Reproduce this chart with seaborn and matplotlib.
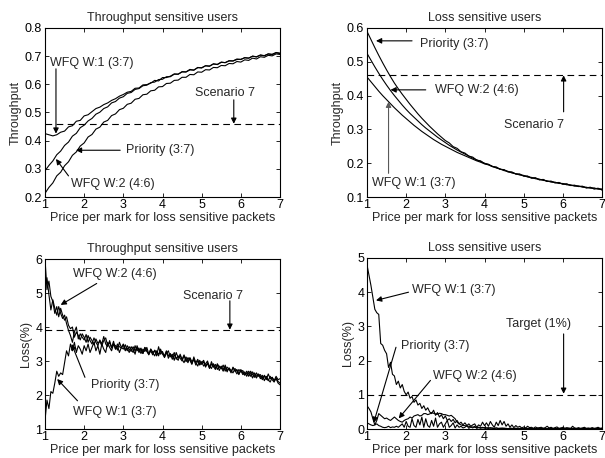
import numpy as np
import matplotlib
matplotlib.use("Agg")
import matplotlib.pyplot as plt
import seaborn as sns

sns.set_style("ticks")
plt.rcParams['font.family'] = ['Liberation Sans', 'DejaVu Sans']
plt.rcParams['font.size'] = 9

# x grids: 0.1 steps for the throughput panels, 0.05 for the noisy loss panels
price = np.round(np.arange(1.0, 7.001, 0.1), 2)
price_fine = np.round(np.arange(1.0, 7.001, 0.05), 2)

# Throughput sensitive users - throughput
tl_w1 = [0.425, 0.421, 0.417, 0.421, 0.430, 0.434, 0.449, 0.453, 0.469, 0.472,
         0.488, 0.492, 0.503, 0.514, 0.519, 0.528, 0.534, 0.543, 0.549, 0.558,
         0.564, 0.572, 0.575, 0.586, 0.587, 0.598, 0.599, 0.604, 0.614, 0.612,
         0.624, 0.624, 0.629, 0.637, 0.636, 0.645, 0.644, 0.653, 0.650, 0.660,
         0.658, 0.666, 0.664, 0.673, 0.670, 0.678, 0.677, 0.683, 0.683, 0.688,
         0.689, 0.694, 0.693, 0.700, 0.697, 0.704, 0.701, 0.708, 0.705, 0.712, 0.709]
tl_w2 = [0.293, 0.312, 0.328, 0.350, 0.363, 0.383, 0.395, 0.416, 0.426, 0.446,
         0.455, 0.470, 0.479, 0.494, 0.501, 0.514, 0.520, 0.534, 0.539, 0.551,
         0.556, 0.568, 0.571, 0.582, 0.585, 0.595, 0.597, 0.606, 0.608, 0.617,
         0.618, 0.627, 0.627, 0.636, 0.636, 0.644, 0.644, 0.651, 0.651, 0.659,
         0.659, 0.666, 0.665, 0.672, 0.671, 0.679, 0.677, 0.684, 0.683, 0.690,
         0.688, 0.695, 0.693, 0.700, 0.698, 0.704, 0.702, 0.708, 0.707, 0.713, 0.711]
tl_pr = [0.213, 0.234, 0.250, 0.275, 0.288, 0.311, 0.325, 0.348, 0.360, 0.381,
         0.392, 0.413, 0.422, 0.441, 0.448, 0.466, 0.472, 0.489, 0.495, 0.510,
         0.515, 0.529, 0.533, 0.547, 0.550, 0.563, 0.565, 0.577, 0.579, 0.591,
         0.592, 0.603, 0.604, 0.614, 0.615, 0.625, 0.625, 0.635, 0.634, 0.644,
         0.643, 0.652, 0.651, 0.660, 0.659, 0.667, 0.666, 0.674, 0.673, 0.681,
         0.679, 0.687, 0.685, 0.693, 0.690, 0.698, 0.696, 0.703, 0.701, 0.708, 0.706]

# Loss sensitive users - throughput
tr_pr = [0.590, 0.566, 0.542, 0.519, 0.497, 0.476, 0.456, 0.437, 0.420, 0.404,
         0.389, 0.374, 0.360, 0.346, 0.333, 0.321, 0.309, 0.298, 0.287, 0.277,
         0.267, 0.260, 0.249, 0.244, 0.234, 0.230, 0.221, 0.218, 0.209, 0.207,
         0.199, 0.197, 0.190, 0.189, 0.182, 0.181, 0.174, 0.174, 0.168, 0.168,
         0.162, 0.162, 0.156, 0.157, 0.151, 0.152, 0.146, 0.147, 0.142, 0.143,
         0.138, 0.139, 0.134, 0.135, 0.131, 0.132, 0.127, 0.129, 0.124, 0.126, 0.121]
tr_w2 = [0.525, 0.505, 0.485, 0.466, 0.448, 0.431, 0.415, 0.400, 0.386, 0.372,
         0.359, 0.347, 0.336, 0.325, 0.314, 0.304, 0.295, 0.286, 0.277, 0.269,
         0.261, 0.253, 0.246, 0.239, 0.233, 0.227, 0.221, 0.215, 0.210, 0.205,
         0.200, 0.196, 0.191, 0.186, 0.183, 0.178, 0.176, 0.171, 0.169, 0.165,
         0.164, 0.159, 0.158, 0.154, 0.153, 0.149, 0.148, 0.144, 0.144, 0.140,
         0.140, 0.136, 0.136, 0.132, 0.133, 0.129, 0.129, 0.126, 0.127, 0.123, 0.124]
tr_w1 = [0.455, 0.441, 0.427, 0.413, 0.400, 0.388, 0.376, 0.364, 0.353, 0.342,
         0.332, 0.322, 0.312, 0.303, 0.294, 0.286, 0.278, 0.270, 0.263, 0.256,
         0.250, 0.244, 0.238, 0.232, 0.227, 0.222, 0.217, 0.212, 0.207, 0.203,
         0.198, 0.195, 0.190, 0.187, 0.182, 0.180, 0.175, 0.173, 0.168, 0.167,
         0.162, 0.161, 0.156, 0.156, 0.151, 0.151, 0.146, 0.146, 0.142, 0.142,
         0.138, 0.138, 0.134, 0.134, 0.131, 0.131, 0.127, 0.128, 0.124, 0.125, 0.121]

# Throughput sensitive users - loss (%)
bl_w2 = [6.0, 5.1, 5.35, 4.9, 4.75, 4.4, 4.6, 4.3, 4.55, 4.35,
         4.2, 4.3, 4.05, 3.95, 4.0, 3.7, 3.85, 3.75, 3.62, 3.8,
         3.7, 3.55, 3.75, 3.6, 3.5, 3.68, 3.55, 3.45, 3.62, 3.5,
         3.72, 3.5, 3.42, 3.6, 3.38, 3.5, 3.45, 3.32, 3.55, 3.4,
         3.35, 3.48, 3.3, 3.42, 3.35, 3.25, 3.45, 3.3, 3.38, 3.22,
         3.35, 3.28, 3.4, 3.2, 3.3, 3.18, 3.32, 3.25, 3.15, 3.35,
         3.2, 3.12, 3.28, 3.15, 3.22, 3.05, 3.18, 3.1, 3.02, 3.2,
         3.05, 2.95, 3.12, 3.0, 3.08, 2.92, 3.05, 2.95, 2.85, 3.02,
         2.9, 2.98, 2.82, 2.95, 2.85, 2.78, 2.92, 2.8, 2.88, 2.72,
         2.85, 2.75, 2.82, 2.68, 2.8, 2.72, 2.65, 2.78, 2.7, 2.6,
         2.75, 2.65, 2.58, 2.7, 2.62, 2.55, 2.68, 2.58, 2.5, 2.62,
         2.55, 2.45, 2.58, 2.5, 2.42, 2.55, 2.45, 2.38, 2.5, 2.4,
         2.35]
bl_pr = [5.2, 5.45, 4.95, 4.5, 4.8, 4.55, 4.35, 4.6, 4.4, 4.25,
         4.35, 4.1, 3.9, 3.75, 3.55, 3.85, 4.0, 3.65, 3.8, 3.7,
         3.62, 3.78, 3.55, 3.7, 3.6, 3.48, 3.65, 3.52, 3.58, 3.45,
         3.6, 3.68, 3.45, 3.55, 3.4, 3.58, 3.35, 3.5, 3.42, 3.38,
         3.48, 3.32, 3.45, 3.35, 3.28, 3.42, 3.3, 3.4, 3.25, 3.35,
         3.22, 3.4, 3.28, 3.2, 3.35, 3.25, 3.15, 3.3, 3.2, 3.28,
         3.25, 3.15, 3.3, 3.08, 3.2, 3.12, 3.25, 3.05, 3.15, 3.08,
         3.0, 3.15, 3.05, 2.95, 3.1, 2.98, 3.05, 2.88, 3.0, 2.92,
         2.98, 2.85, 2.92, 3.0, 2.8, 2.9, 2.85, 2.75, 2.92, 2.82,
         2.78, 2.88, 2.7, 2.82, 2.75, 2.68, 2.8, 2.72, 2.62, 2.75,
         2.68, 2.72, 2.6, 2.65, 2.55, 2.7, 2.6, 2.52, 2.65, 2.55,
         2.6, 2.5, 2.55, 2.45, 2.62, 2.48, 2.52, 2.42, 2.55, 2.45,
         2.48]
bl_w1 = [1.25, 1.85, 1.6, 2.1, 2.05, 2.35, 2.7, 2.55, 2.65, 2.6,
         2.95, 3.3, 3.15, 3.5, 3.3, 3.55, 3.25, 3.45, 3.35, 3.2,
         3.45, 3.3, 3.5, 3.25, 3.4, 3.55, 3.3, 3.45, 3.2, 3.5,
         3.35, 3.25, 3.55, 3.4, 3.3, 3.5, 3.35, 3.45, 3.25, 3.4,
         3.5, 3.3, 3.38, 3.25, 3.42, 3.35, 3.2, 3.45, 3.3, 3.38,
         3.22, 3.4, 3.3, 3.18, 3.35, 3.25, 3.3, 3.15, 3.42, 3.2,
         3.28, 3.1, 3.22, 3.3, 3.12, 3.2, 3.02, 3.25, 3.1, 3.15,
         3.05, 3.18, 2.98, 3.1, 3.02, 2.9, 3.12, 2.95, 3.05, 2.88,
         2.95, 3.02, 2.85, 2.92, 2.78, 2.98, 2.82, 2.9, 2.75, 2.85,
         2.8, 2.7, 2.88, 2.72, 2.78, 2.65, 2.82, 2.7, 2.75, 2.62,
         2.72, 2.6, 2.68, 2.55, 2.7, 2.62, 2.5, 2.65, 2.55, 2.6,
         2.48, 2.58, 2.42, 2.55, 2.45, 2.38, 2.52, 2.42, 2.48, 2.35,
         2.3]

# Loss sensitive users - loss (%)
br_w1 = [4.8, 4.5, 4.2, 3.85, 3.5, 3.4, 3.35, 2.5, 2.45, 2.3,
         2.2, 1.8, 1.95, 1.6, 1.55, 1.3, 1.4, 1.2, 1.3, 1.1,
         1.0, 1.08, 0.9, 0.95, 0.78, 0.85, 0.7, 0.75, 0.6, 0.68,
         0.55, 0.62, 0.5, 0.45, 0.55, 0.4, 0.48, 0.35, 0.42, 0.3,
         0.38, 0.25, 0.3, 0.22, 0.28, 0.18, 0.25, 0.15, 0.2, 0.12,
         0.18, 0.1, 0.15, 0.08, 0.12, 0.15, 0.05, 0.12, 0.08, 0.2,
         0.1, 0.18, 0.08, 0.22, 0.12, 0.05, 0.2, 0.1, 0.25, 0.12,
         0.22, 0.08, 0.15, 0.05, 0.12, 0.04, 0.1, 0.05, 0.08, 0.03,
         0.06, 0.03, 0.08, 0.04, 0.05, 0.02, 0.06, 0.03, 0.04, 0.05,
         0.02, 0.04, 0.08, 0.03, 0.05, 0.02, 0.04, 0.06, 0.02, 0.03,
         0.05, 0.02, 0.04, 0.03, 0.02, 0.08, 0.03, 0.02, 0.04, 0.02,
         0.03, 0.05, 0.02, 0.03, 0.02, 0.04, 0.02, 0.03, 0.05, 0.02,
         0.03]
br_pr = [0.68, 0.6, 0.5, 0.3, 0.12, 0.25, 0.45, 0.4, 0.35, 0.3,
         0.32, 0.28, 0.25, 0.3, 0.35, 0.3, 0.25, 0.22, 0.2, 0.25,
         0.28, 0.3, 0.35, 0.32, 0.38, 0.4, 0.42, 0.38, 0.4, 0.45,
         0.45, 0.42, 0.44, 0.48, 0.46, 0.44, 0.43, 0.46, 0.45, 0.42,
         0.42, 0.4, 0.38, 0.4, 0.35, 0.3, 0.2, 0.15, 0.12, 0.1,
         0.1, 0.08, 0.08, 0.06, 0.06, 0.05, 0.04, 0.05, 0.04, 0.03,
         0.05, 0.03, 0.04, 0.02, 0.03, 0.02, 0.03, 0.02, 0.02, 0.03,
         0.02, 0.02, 0.01, 0.02, 0.02, 0.01, 0.02, 0.01, 0.02, 0.01,
         0.01, 0.02, 0.01, 0.01, 0.02, 0.01, 0.01, 0.02, 0.01, 0.01,
         0.02, 0.01, 0.01, 0.01, 0.02, 0.01, 0.01, 0.02, 0.01, 0.01,
         0.01, 0.02, 0.01, 0.01, 0.01, 0.02, 0.01, 0.01, 0.01, 0.01,
         0.02, 0.01, 0.01, 0.01, 0.01, 0.02, 0.01, 0.01, 0.01, 0.01,
         0.01]
br_w2 = [0.18, 0.15, 0.12, 0.1, 0.12, 0.15, 0.1, 0.08, 0.05, 0.04,
         0.05, 0.08, 0.04, 0.06, 0.05, 0.08, 0.05, 0.1, 0.15, 0.05,
         0.22, 0.08, 0.05, 0.3, 0.1, 0.05, 0.28, 0.12, 0.35, 0.05,
         0.3, 0.1, 0.05, 0.25, 0.08, 0.32, 0.05, 0.15, 0.2, 0.05,
         0.15, 0.25, 0.05, 0.1, 0.18, 0.03, 0.12, 0.05, 0.08, 0.03,
         0.05, 0.1, 0.02, 0.06, 0.03, 0.08, 0.02, 0.04, 0.02, 0.05,
         0.02, 0.03, 0.01, 0.04, 0.02, 0.01, 0.03, 0.01, 0.02, 0.01,
         0.02, 0.01, 0.01, 0.02, 0.01, 0.01, 0.02, 0.01, 0.01, 0.01,
         0.01, 0.01, 0.02, 0.01, 0.01, 0.01, 0.01, 0.02, 0.01, 0.01,
         0.01, 0.01, 0.01, 0.02, 0.01, 0.01, 0.01, 0.01, 0.01, 0.02,
         0.01, 0.01, 0.01, 0.01, 0.01, 0.01, 0.02, 0.01, 0.01, 0.01,
         0.01, 0.01, 0.01, 0.01, 0.01, 0.01, 0.01, 0.01, 0.02, 0.01,
         0.01]

panels = [
    dict(rect=[45, 28, 280, 197], title="Throughput sensitive users", ylabel="Throughput",
         x=price, series=[tl_w1, tl_w2, tl_pr], ref=0.46, ylim=(0.2, 0.8),
         yticks=[0.2, 0.3, 0.4, 0.5, 0.6, 0.7, 0.8], yfmt="{:.1f}",
         notes=[("WFQ W:1 (3:7)", (1.13, 0.675), (1.28, 0.655), (1.28, 0.425), 'k'),
                ("Scenario 7", (4.83, 0.568), (5.82, 0.545), (5.82, 0.46), 'k'),
                ("Priority (3:7)", (3.07, 0.366), (2.92, 0.366), (1.79, 0.366), 'k'),
                ("WFQ W:2 (4:6)", (1.66, 0.247), (1.60, 0.275), (1.28, 0.335), 'k')]),
    dict(rect=[367, 28, 602, 197], title="Loss sensitive users", ylabel="Throughput",
         x=price, series=[tr_w1, tr_w2, tr_pr], ref=0.46, ylim=(0.1, 0.6),
         yticks=[0.1, 0.2, 0.3, 0.4, 0.5, 0.6], yfmt="{:.1f}",
         notes=[("Priority (3:7)", (2.36, 0.553), (2.15, 0.562), (1.23, 0.562), 'k'),
                ("WFQ W:2 (4:6)", (2.73, 0.417), (2.50, 0.417), (1.60, 0.417), 'k'),
                ("WFQ W:1 (3:7)", (1.13, 0.140), (1.55, 0.170), (1.55, 0.382), '0.35'),
                ("Scenario 7", (4.49, 0.313), (6.02, 0.352), (6.02, 0.460), 'k')]),
    dict(rect=[45, 259, 280, 429], title="Throughput sensitive users", ylabel="Loss(%)",
         x=price_fine, series=[bl_w1, bl_w2, bl_pr], ref=3.9, ylim=(1, 6),
         yticks=[1, 2, 3, 4, 5, 6], yfmt="{:d}",
         notes=[("WFQ W:2 (4:6)", (1.71, 5.56), (2.32, 5.28), (1.40, 4.65), 'k'),
                ("Scenario 7", (4.53, 4.92), (5.72, 4.77), (5.72, 3.92), 'k'),
                ("Priority (3:7)", (2.17, 2.29), (2.02, 2.52), (1.68, 3.50), 'k'),
                ("WFQ W:1 (3:7)", (1.71, 1.49), (1.83, 1.83), (1.31, 2.47), 'k')]),
    dict(rect=[367, 258, 602, 429], title="Loss sensitive users", ylabel="Loss(%)",
         x=price_fine, series=[br_w1, br_w2, br_pr], ref=1.0, ylim=(0, 5),
         yticks=[0, 1, 2, 3, 4, 5], yfmt="{:d}",
         notes=[("WFQ W:1 (3:7)", (2.15, 4.05), (2.06, 4.00), (1.23, 3.76), 'k'),
                ("Priority (3:7)", (1.88, 2.42), (1.74, 2.39), (1.17, 0.18), 'k'),
                ("WFQ W:2 (4:6)", (2.69, 1.56), (2.62, 1.42), (1.81, 0.31), 'k'),
                ("Target (1%)", (4.55, 3.08), (6.02, 2.78), (6.02, 1.03), 'k')]),
]

W, H = 605, 458
fig = plt.figure(figsize=(W / 100, H / 100), dpi=100)

for p in panels:
    l, t, r, b = p["rect"]
    ax = fig.add_axes([l / W, (H - b) / H, (r - l) / W, (b - t) / H])
    for s in p["series"]:
        sns.lineplot(x=p["x"], y=s, color='k', lw=0.8, ax=ax)
    ax.axhline(p["ref"], color='k', lw=0.8, ls=(0, (6, 4)))
    ax.set_xlim(1, 7)
    ax.set_ylim(*p["ylim"])
    ax.set_xticks(range(1, 8))
    ax.set_yticks(p["yticks"])
    ax.set_yticklabels([p["yfmt"].format(v) for v in p["yticks"]])
    ax.tick_params(direction='in', top=True, right=True, length=3, width=0.6,
                   labelsize=9, colors='k')
    ax.tick_params(axis='x', pad=1.5)
    ax.tick_params(axis='y', pad=2)
    for sp in ax.spines.values():
        sp.set_linewidth(0.8)
        sp.set_color('k')
    ax.set_title(p["title"], fontsize=9, pad=5)
    ax.set_ylabel(p["ylabel"], fontsize=9, labelpad=2)
    ax.set_xlabel("Price per mark for loss sensitive packets", fontsize=9, labelpad=1)
    for txt, pos, tail, tip, c in p["notes"]:
        ax.text(pos[0], pos[1], txt, ha='left', va='center', fontsize=9)
        ax.annotate('', xy=tip, xytext=tail,
                    arrowprops=dict(arrowstyle='-|>', color=c, lw=0.8,
                                    mutation_scale=8, shrinkA=0, shrinkB=0))

fig.savefig("out.png", dpi=100)
